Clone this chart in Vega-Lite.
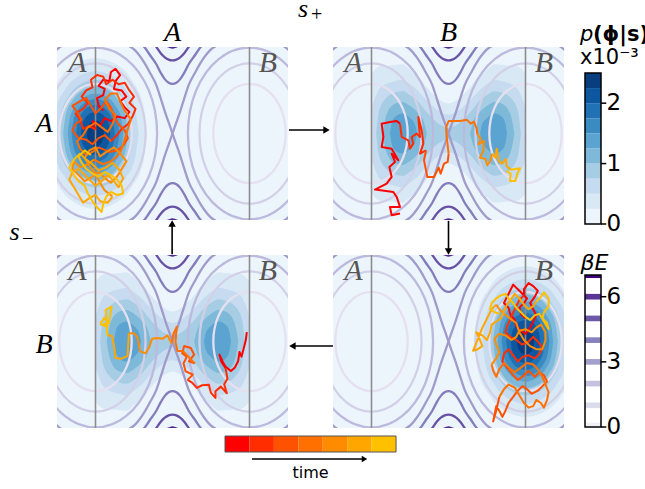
{
"$schema": "https://vega.github.io/schema/vega-lite/v6.json",
"background": "white",
"padding": {"left": 9, "top": -4, "right": 0, "bottom": 0},
"config": {"view": {"stroke": null}},
"datasets": {
"ell": [
{"id":"1L","lev":1,"x":-0.53,"y":0},{"id":"1L","lev":1,"x":-0.593,"y":0.323},{"id":"1L","lev":1,"x":-0.765,"y":0.559},{"id":"1L","lev":1,"x":-1,"y":0.645},{"id":"1L","lev":1,"x":-1.235,"y":0.559},{"id":"1L","lev":1,"x":-1.407,"y":0.323},{"id":"1L","lev":1,"x":-1.47,"y":0},{"id":"1L","lev":1,"x":-1.407,"y":-0.323},{"id":"1L","lev":1,"x":-1.235,"y":-0.559},{"id":"1L","lev":1,"x":-1,"y":-0.645},{"id":"1L","lev":1,"x":-0.765,"y":-0.559},{"id":"1L","lev":1,"x":-0.593,"y":-0.323},
{"id":"1R","lev":1,"x":0.53,"y":0},{"id":"1R","lev":1,"x":0.593,"y":0.323},{"id":"1R","lev":1,"x":0.765,"y":0.559},{"id":"1R","lev":1,"x":1,"y":0.645},{"id":"1R","lev":1,"x":1.235,"y":0.559},{"id":"1R","lev":1,"x":1.407,"y":0.323},{"id":"1R","lev":1,"x":1.47,"y":0},{"id":"1R","lev":1,"x":1.407,"y":-0.323},{"id":"1R","lev":1,"x":1.235,"y":-0.559},{"id":"1R","lev":1,"x":1,"y":-0.645},{"id":"1R","lev":1,"x":0.765,"y":-0.559},{"id":"1R","lev":1,"x":0.593,"y":-0.323},
{"id":"2L","lev":2,"x":-0.35,"y":0},{"id":"2L","lev":2,"x":-0.437,"y":0.457},{"id":"2L","lev":2,"x":-0.675,"y":0.791},{"id":"2L","lev":2,"x":-1,"y":0.913},{"id":"2L","lev":2,"x":-1.325,"y":0.791},{"id":"2L","lev":2,"x":-1.563,"y":0.457},{"id":"2L","lev":2,"x":-1.65,"y":0},{"id":"2L","lev":2,"x":-1.563,"y":-0.457},{"id":"2L","lev":2,"x":-1.325,"y":-0.791},{"id":"2L","lev":2,"x":-1,"y":-0.913},{"id":"2L","lev":2,"x":-0.675,"y":-0.791},{"id":"2L","lev":2,"x":-0.437,"y":-0.457},
{"id":"2R","lev":2,"x":0.35,"y":0},{"id":"2R","lev":2,"x":0.437,"y":0.457},{"id":"2R","lev":2,"x":0.675,"y":0.791},{"id":"2R","lev":2,"x":1,"y":0.913},{"id":"2R","lev":2,"x":1.325,"y":0.791},{"id":"2R","lev":2,"x":1.563,"y":0.457},{"id":"2R","lev":2,"x":1.65,"y":0},{"id":"2R","lev":2,"x":1.563,"y":-0.457},{"id":"2R","lev":2,"x":1.325,"y":-0.791},{"id":"2R","lev":2,"x":1,"y":-0.913},{"id":"2R","lev":2,"x":0.675,"y":-0.791},{"id":"2R","lev":2,"x":0.437,"y":-0.457},
{"id":"3L","lev":3,"x":-0.2,"y":0},{"id":"3L","lev":3,"x":-0.307,"y":0.559},{"id":"3L","lev":3,"x":-0.6,"y":0.968},{"id":"3L","lev":3,"x":-1,"y":1.118},{"id":"3L","lev":3,"x":-1.4,"y":0.968},{"id":"3L","lev":3,"x":-1.693,"y":0.559},{"id":"3L","lev":3,"x":-1.8,"y":0},{"id":"3L","lev":3,"x":-1.693,"y":-0.559},{"id":"3L","lev":3,"x":-1.4,"y":-0.968},{"id":"3L","lev":3,"x":-1,"y":-1.118},{"id":"3L","lev":3,"x":-0.6,"y":-0.968},{"id":"3L","lev":3,"x":-0.307,"y":-0.559},
{"id":"3R","lev":3,"x":0.2,"y":0},{"id":"3R","lev":3,"x":0.307,"y":0.559},{"id":"3R","lev":3,"x":0.6,"y":0.968},{"id":"3R","lev":3,"x":1,"y":1.118},{"id":"3R","lev":3,"x":1.4,"y":0.968},{"id":"3R","lev":3,"x":1.693,"y":0.559},{"id":"3R","lev":3,"x":1.8,"y":0},{"id":"3R","lev":3,"x":1.693,"y":-0.559},{"id":"3R","lev":3,"x":1.4,"y":-0.968},{"id":"3R","lev":3,"x":1,"y":-1.118},{"id":"3R","lev":3,"x":0.6,"y":-0.968},{"id":"3R","lev":3,"x":0.307,"y":-0.559}
],
"arms": [
{"id":"4a","lev":4,"x":-0.56,"y":1.134},{"id":"4a","lev":4,"x":-0.5,"y":1.094},{"id":"4a","lev":4,"x":-0.45,"y":1.041},{"id":"4a","lev":4,"x":-0.36,"y":0.913},{"id":"4a","lev":4,"x":-0.3,"y":0.804},{"id":"4a","lev":4,"x":-0.21,"y":0.629},{"id":"4a","lev":4,"x":-0.15,"y":0.447},{"id":"4a","lev":4,"x":-0.1,"y":0.289},{"id":"4a","lev":4,"x":-0.05,"y":0.144},{"id":"4a","lev":4,"x":0,"y":0},{"id":"4a","lev":4,"x":0.05,"y":-0.144},{"id":"4a","lev":4,"x":0.1,"y":-0.289},{"id":"4a","lev":4,"x":0.15,"y":-0.447},{"id":"4a","lev":4,"x":0.21,"y":-0.629},{"id":"4a","lev":4,"x":0.3,"y":-0.804},{"id":"4a","lev":4,"x":0.36,"y":-0.913},{"id":"4a","lev":4,"x":0.45,"y":-1.041},{"id":"4a","lev":4,"x":0.5,"y":-1.094},{"id":"4a","lev":4,"x":0.56,"y":-1.134},
{"id":"4b","lev":4,"x":-0.56,"y":-1.134},{"id":"4b","lev":4,"x":-0.5,"y":-1.094},{"id":"4b","lev":4,"x":-0.45,"y":-1.041},{"id":"4b","lev":4,"x":-0.36,"y":-0.913},{"id":"4b","lev":4,"x":-0.3,"y":-0.804},{"id":"4b","lev":4,"x":-0.21,"y":-0.629},{"id":"4b","lev":4,"x":-0.15,"y":-0.447},{"id":"4b","lev":4,"x":-0.1,"y":-0.289},{"id":"4b","lev":4,"x":-0.05,"y":-0.144},{"id":"4b","lev":4,"x":0,"y":0},{"id":"4b","lev":4,"x":0.05,"y":0.144},{"id":"4b","lev":4,"x":0.1,"y":0.289},{"id":"4b","lev":4,"x":0.15,"y":0.447},{"id":"4b","lev":4,"x":0.21,"y":0.629},{"id":"4b","lev":4,"x":0.3,"y":0.804},{"id":"4b","lev":4,"x":0.36,"y":0.913},{"id":"4b","lev":4,"x":0.45,"y":1.041},{"id":"4b","lev":4,"x":0.5,"y":1.094},{"id":"4b","lev":4,"x":0.56,"y":1.134},
{"id":"4c1","lev":4,"x":1.44,"y":1.14},{"id":"4c1","lev":4,"x":1.5,"y":1.094},{"id":"4c1","lev":4,"x":1.56,"y":1.04},
{"id":"4c2","lev":4,"x":1.44,"y":-1.14},{"id":"4c2","lev":4,"x":1.5,"y":-1.094},{"id":"4c2","lev":4,"x":1.56,"y":-1.04},
{"id":"4c3","lev":4,"x":-1.56,"y":1.04},{"id":"4c3","lev":4,"x":-1.5,"y":1.094},{"id":"4c3","lev":4,"x":-1.44,"y":1.14},
{"id":"4c4","lev":4,"x":-1.56,"y":-1.04},{"id":"4c4","lev":4,"x":-1.5,"y":-1.094},{"id":"4c4","lev":4,"x":-1.44,"y":-1.14},
{"id":"5T","lev":5,"x":-0.38,"y":1.14},{"id":"5T","lev":5,"x":-0.36,"y":1.118},{"id":"5T","lev":5,"x":-0.3,"y":1.031},{"id":"5T","lev":5,"x":-0.21,"y":0.901},{"id":"5T","lev":5,"x":-0.15,"y":0.785},{"id":"5T","lev":5,"x":-0.1,"y":0.707},{"id":"5T","lev":5,"x":-0.05,"y":0.661},{"id":"5T","lev":5,"x":0,"y":0.645},{"id":"5T","lev":5,"x":0.05,"y":0.661},{"id":"5T","lev":5,"x":0.1,"y":0.707},{"id":"5T","lev":5,"x":0.15,"y":0.785},{"id":"5T","lev":5,"x":0.21,"y":0.901},{"id":"5T","lev":5,"x":0.3,"y":1.031},{"id":"5T","lev":5,"x":0.36,"y":1.118},{"id":"5T","lev":5,"x":0.38,"y":1.14},
{"id":"5B","lev":5,"x":-0.38,"y":-1.14},{"id":"5B","lev":5,"x":-0.36,"y":-1.118},{"id":"5B","lev":5,"x":-0.3,"y":-1.031},{"id":"5B","lev":5,"x":-0.21,"y":-0.901},{"id":"5B","lev":5,"x":-0.15,"y":-0.785},{"id":"5B","lev":5,"x":-0.1,"y":-0.707},{"id":"5B","lev":5,"x":-0.05,"y":-0.661},{"id":"5B","lev":5,"x":0,"y":-0.645},{"id":"5B","lev":5,"x":0.05,"y":-0.661},{"id":"5B","lev":5,"x":0.1,"y":-0.707},{"id":"5B","lev":5,"x":0.15,"y":-0.785},{"id":"5B","lev":5,"x":0.21,"y":-0.901},{"id":"5B","lev":5,"x":0.3,"y":-1.031},{"id":"5B","lev":5,"x":0.36,"y":-1.118},{"id":"5B","lev":5,"x":0.38,"y":-1.14},
{"id":"6T","lev":6,"x":-0.22,"y":1.14},{"id":"6T","lev":6,"x":-0.2,"y":1.11},{"id":"6T","lev":6,"x":-0.15,"y":1.04},{"id":"6T","lev":6,"x":-0.1,"y":0.99},{"id":"6T","lev":6,"x":-0.05,"y":0.96},{"id":"6T","lev":6,"x":0,"y":0.95},{"id":"6T","lev":6,"x":0.05,"y":0.96},{"id":"6T","lev":6,"x":0.1,"y":0.99},{"id":"6T","lev":6,"x":0.15,"y":1.04},{"id":"6T","lev":6,"x":0.2,"y":1.11},{"id":"6T","lev":6,"x":0.22,"y":1.14},
{"id":"6B","lev":6,"x":-0.22,"y":-1.14},{"id":"6B","lev":6,"x":-0.2,"y":-1.11},{"id":"6B","lev":6,"x":-0.15,"y":-1.04},{"id":"6B","lev":6,"x":-0.1,"y":-0.99},{"id":"6B","lev":6,"x":-0.05,"y":-0.96},{"id":"6B","lev":6,"x":0,"y":-0.95},{"id":"6B","lev":6,"x":0.05,"y":-0.96},{"id":"6B","lev":6,"x":0.1,"y":-0.99},{"id":"6B","lev":6,"x":0.15,"y":-1.04},{"id":"6B","lev":6,"x":0.2,"y":-1.11},{"id":"6B","lev":6,"x":0.22,"y":-1.14},
{"id":"7T","lev":7,"x":-0.07,"y":1.14},{"id":"7T","lev":7,"x":-0.04,"y":1.128},{"id":"7T","lev":7,"x":0,"y":1.118},{"id":"7T","lev":7,"x":0.04,"y":1.128},{"id":"7T","lev":7,"x":0.07,"y":1.14},
{"id":"7B","lev":7,"x":-0.07,"y":-1.14},{"id":"7B","lev":7,"x":-0.04,"y":-1.128},{"id":"7B","lev":7,"x":0,"y":-1.118},{"id":"7B","lev":7,"x":0.04,"y":-1.128},{"id":"7B","lev":7,"x":0.07,"y":-1.14}
],
"wellDens": [
{"k":1,"x":-1.67,"xb":1.67,"h":0,"l":0},{"k":1,"x":-1.619,"xb":1.619,"h":0.375,"l":-0.375},{"k":1,"x":-1.474,"xb":1.474,"h":0.693,"l":-0.693},{"k":1,"x":-1.257,"xb":1.257,"h":0.906,"l":-0.906},{"k":1,"x":-1,"xb":1,"h":0.98,"l":-0.98},{"k":1,"x":-0.743,"xb":0.743,"h":0.906,"l":-0.906},{"k":1,"x":-0.526,"xb":0.526,"h":0.693,"l":-0.693},{"k":1,"x":-0.381,"xb":0.381,"h":0.375,"l":-0.375},{"k":1,"x":-0.33,"xb":0.33,"h":0,"l":0},
{"k":2,"x":-1.56,"xb":1.56,"h":0,"l":0},{"k":2,"x":-1.517,"xb":1.517,"h":0.31,"l":-0.31},{"k":2,"x":-1.396,"xb":1.396,"h":0.573,"l":-0.573},{"k":2,"x":-1.214,"xb":1.214,"h":0.748,"l":-0.748},{"k":2,"x":-1,"xb":1,"h":0.81,"l":-0.81},{"k":2,"x":-0.786,"xb":0.786,"h":0.748,"l":-0.748},{"k":2,"x":-0.604,"xb":0.604,"h":0.573,"l":-0.573},{"k":2,"x":-0.483,"xb":0.483,"h":0.31,"l":-0.31},{"k":2,"x":-0.44,"xb":0.44,"h":0,"l":0},
{"k":3,"x":-1.48,"xb":1.48,"h":0,"l":0},{"k":3,"x":-1.444,"xb":1.444,"h":0.268,"l":-0.268},{"k":3,"x":-1.339,"xb":1.339,"h":0.495,"l":-0.495},{"k":3,"x":-1.184,"xb":1.184,"h":0.647,"l":-0.647},{"k":3,"x":-1,"xb":1,"h":0.7,"l":-0.7},{"k":3,"x":-0.816,"xb":0.816,"h":0.647,"l":-0.647},{"k":3,"x":-0.661,"xb":0.661,"h":0.495,"l":-0.495},{"k":3,"x":-0.556,"xb":0.556,"h":0.268,"l":-0.268},{"k":3,"x":-0.52,"xb":0.52,"h":0,"l":0},
{"k":4,"x":-1.42,"xb":1.42,"h":0,"l":0},{"k":4,"x":-1.388,"xb":1.388,"h":0.234,"l":-0.234},{"k":4,"x":-1.297,"xb":1.297,"h":0.431,"l":-0.431},{"k":4,"x":-1.161,"xb":1.161,"h":0.564,"l":-0.564},{"k":4,"x":-1,"xb":1,"h":0.61,"l":-0.61},{"k":4,"x":-0.839,"xb":0.839,"h":0.564,"l":-0.564},{"k":4,"x":-0.703,"xb":0.703,"h":0.431,"l":-0.431},{"k":4,"x":-0.612,"xb":0.612,"h":0.234,"l":-0.234},{"k":4,"x":-0.58,"xb":0.58,"h":0,"l":0},
{"k":5,"x":-1.36,"xb":1.36,"h":0,"l":0},{"k":5,"x":-1.333,"xb":1.333,"h":0.199,"l":-0.199},{"k":5,"x":-1.255,"xb":1.255,"h":0.368,"l":-0.368},{"k":5,"x":-1.138,"xb":1.138,"h":0.48,"l":-0.48},{"k":5,"x":-1,"xb":1,"h":0.52,"l":-0.52},{"k":5,"x":-0.862,"xb":0.862,"h":0.48,"l":-0.48},{"k":5,"x":-0.745,"xb":0.745,"h":0.368,"l":-0.368},{"k":5,"x":-0.667,"xb":0.667,"h":0.199,"l":-0.199},{"k":5,"x":-0.64,"xb":0.64,"h":0,"l":0},
{"k":6,"x":-1.31,"xb":1.31,"h":0,"l":0},{"k":6,"x":-1.286,"xb":1.286,"h":0.172,"l":-0.172},{"k":6,"x":-1.219,"xb":1.219,"h":0.318,"l":-0.318},{"k":6,"x":-1.119,"xb":1.119,"h":0.416,"l":-0.416},{"k":6,"x":-1,"xb":1,"h":0.45,"l":-0.45},{"k":6,"x":-0.881,"xb":0.881,"h":0.416,"l":-0.416},{"k":6,"x":-0.781,"xb":0.781,"h":0.318,"l":-0.318},{"k":6,"x":-0.714,"xb":0.714,"h":0.172,"l":-0.172},{"k":6,"x":-0.69,"xb":0.69,"h":0,"l":0},
{"k":7,"x":-1.25,"xb":1.25,"h":0,"l":0},{"k":7,"x":-1.231,"xb":1.231,"h":0.142,"l":-0.142},{"k":7,"x":-1.177,"xb":1.177,"h":0.262,"l":-0.262},{"k":7,"x":-1.096,"xb":1.096,"h":0.342,"l":-0.342},{"k":7,"x":-1,"xb":1,"h":0.37,"l":-0.37},{"k":7,"x":-0.904,"xb":0.904,"h":0.342,"l":-0.342},{"k":7,"x":-0.823,"xb":0.823,"h":0.262,"l":-0.262},{"k":7,"x":-0.769,"xb":0.769,"h":0.142,"l":-0.142},{"k":7,"x":-0.75,"xb":0.75,"h":0,"l":0},
{"k":8,"x":-1.19,"xb":1.19,"h":0,"l":0},{"k":8,"x":-1.176,"xb":1.176,"h":0.107,"l":-0.107},{"k":8,"x":-1.134,"xb":1.134,"h":0.198,"l":-0.198},{"k":8,"x":-1.073,"xb":1.073,"h":0.259,"l":-0.259},{"k":8,"x":-1,"xb":1,"h":0.28,"l":-0.28},{"k":8,"x":-0.927,"xb":0.927,"h":0.259,"l":-0.259},{"k":8,"x":-0.866,"xb":0.866,"h":0.198,"l":-0.198},{"k":8,"x":-0.824,"xb":0.824,"h":0.107,"l":-0.107},{"k":8,"x":-0.81,"xb":0.81,"h":0,"l":0},
{"k":9,"x":-1.11,"xb":1.11,"h":0,"l":0},{"k":9,"x":-1.102,"xb":1.102,"h":0.065,"l":-0.065},{"k":9,"x":-1.078,"xb":1.078,"h":0.12,"l":-0.12},{"k":9,"x":-1.042,"xb":1.042,"h":0.157,"l":-0.157},{"k":9,"x":-1,"xb":1,"h":0.17,"l":-0.17},{"k":9,"x":-0.958,"xb":0.958,"h":0.157,"l":-0.157},{"k":9,"x":-0.922,"xb":0.922,"h":0.12,"l":-0.12},{"k":9,"x":-0.898,"xb":0.898,"h":0.065,"l":-0.065},{"k":9,"x":-0.89,"xb":0.89,"h":0,"l":0}
],
"transDens": [
{"id":"t1","k":1,"x":-1,"h":0.78,"l":-0.78},{"id":"t1","k":1,"x":-0.9,"h":0.87,"l":-0.87},{"id":"t1","k":1,"x":-0.8,"h":0.88,"l":-0.88},{"id":"t1","k":1,"x":-0.7,"h":0.89,"l":-0.89},{"id":"t1","k":1,"x":-0.6,"h":0.9,"l":-0.9},{"id":"t1","k":1,"x":-0.5,"h":0.83,"l":-0.83},{"id":"t1","k":1,"x":-0.4,"h":0.75,"l":-0.75},{"id":"t1","k":1,"x":-0.3,"h":0.62,"l":-0.62},{"id":"t1","k":1,"x":-0.2,"h":0.51,"l":-0.51},{"id":"t1","k":1,"x":-0.1,"h":0.43,"l":-0.43},{"id":"t1","k":1,"x":0,"h":0.39,"l":-0.39},{"id":"t1","k":1,"x":0.1,"h":0.43,"l":-0.43},{"id":"t1","k":1,"x":0.2,"h":0.51,"l":-0.51},{"id":"t1","k":1,"x":0.3,"h":0.62,"l":-0.62},{"id":"t1","k":1,"x":0.4,"h":0.75,"l":-0.75},{"id":"t1","k":1,"x":0.5,"h":0.83,"l":-0.83},{"id":"t1","k":1,"x":0.6,"h":0.9,"l":-0.9},{"id":"t1","k":1,"x":0.7,"h":0.89,"l":-0.89},{"id":"t1","k":1,"x":0.8,"h":0.88,"l":-0.88},{"id":"t1","k":1,"x":0.9,"h":0.87,"l":-0.87},{"id":"t1","k":1,"x":1,"h":0.78,"l":-0.78},
{"id":"t2","k":2,"x":-1,"h":0.33,"l":-0.33},{"id":"t2","k":2,"x":-0.9,"h":0.58,"l":-0.58},{"id":"t2","k":2,"x":-0.8,"h":0.65,"l":-0.65},{"id":"t2","k":2,"x":-0.7,"h":0.68,"l":-0.68},{"id":"t2","k":2,"x":-0.6,"h":0.7,"l":-0.7},{"id":"t2","k":2,"x":-0.5,"h":0.64,"l":-0.64},{"id":"t2","k":2,"x":-0.4,"h":0.56,"l":-0.56},{"id":"t2","k":2,"x":-0.3,"h":0.45,"l":-0.45},{"id":"t2","k":2,"x":-0.2,"h":0.35,"l":-0.35},{"id":"t2","k":2,"x":-0.1,"h":0.275,"l":-0.275},{"id":"t2","k":2,"x":0,"h":0.245,"l":-0.245},{"id":"t2","k":2,"x":0.1,"h":0.275,"l":-0.275},{"id":"t2","k":2,"x":0.2,"h":0.35,"l":-0.35},{"id":"t2","k":2,"x":0.3,"h":0.45,"l":-0.45},{"id":"t2","k":2,"x":0.4,"h":0.56,"l":-0.56},{"id":"t2","k":2,"x":0.5,"h":0.64,"l":-0.64},{"id":"t2","k":2,"x":0.6,"h":0.7,"l":-0.7},{"id":"t2","k":2,"x":0.7,"h":0.68,"l":-0.68},{"id":"t2","k":2,"x":0.8,"h":0.65,"l":-0.65},{"id":"t2","k":2,"x":0.9,"h":0.58,"l":-0.58},{"id":"t2","k":2,"x":1,"h":0.33,"l":-0.33},
{"id":"t3","k":3,"x":-0.94,"h":0,"l":0},{"id":"t3","k":3,"x":-0.9,"h":0.3,"l":-0.3},{"id":"t3","k":3,"x":-0.8,"h":0.47,"l":-0.47},{"id":"t3","k":3,"x":-0.7,"h":0.53,"l":-0.53},{"id":"t3","k":3,"x":-0.6,"h":0.55,"l":-0.55},{"id":"t3","k":3,"x":-0.5,"h":0.5,"l":-0.5},{"id":"t3","k":3,"x":-0.4,"h":0.42,"l":-0.42},{"id":"t3","k":3,"x":-0.3,"h":0.3,"l":-0.3},{"id":"t3","k":3,"x":-0.2,"h":0.19,"l":-0.19},{"id":"t3","k":3,"x":-0.1,"h":0.11,"l":-0.11},{"id":"t3","k":3,"x":0,"h":0.07,"l":-0.07},{"id":"t3","k":3,"x":0.1,"h":0.11,"l":-0.11},{"id":"t3","k":3,"x":0.2,"h":0.19,"l":-0.19},{"id":"t3","k":3,"x":0.3,"h":0.3,"l":-0.3},{"id":"t3","k":3,"x":0.4,"h":0.42,"l":-0.42},{"id":"t3","k":3,"x":0.5,"h":0.5,"l":-0.5},{"id":"t3","k":3,"x":0.6,"h":0.55,"l":-0.55},{"id":"t3","k":3,"x":0.7,"h":0.53,"l":-0.53},{"id":"t3","k":3,"x":0.8,"h":0.47,"l":-0.47},{"id":"t3","k":3,"x":0.9,"h":0.3,"l":-0.3},{"id":"t3","k":3,"x":0.94,"h":0,"l":0},
{"id":"t4L","k":4,"x":-0.855,"h":0,"l":0},{"id":"t4L","k":4,"x":-0.83,"h":0.15,"l":-0.15},{"id":"t4L","k":4,"x":-0.8,"h":0.26,"l":-0.26},{"id":"t4L","k":4,"x":-0.7,"h":0.385,"l":-0.385},{"id":"t4L","k":4,"x":-0.6,"h":0.41,"l":-0.41},{"id":"t4L","k":4,"x":-0.5,"h":0.36,"l":-0.36},{"id":"t4L","k":4,"x":-0.4,"h":0.27,"l":-0.27},{"id":"t4L","k":4,"x":-0.32,"h":0.15,"l":-0.15},{"id":"t4L","k":4,"x":-0.28,"h":0,"l":0},
{"id":"t4R","k":4,"x":0.28,"h":0,"l":0},{"id":"t4R","k":4,"x":0.32,"h":0.15,"l":-0.15},{"id":"t4R","k":4,"x":0.4,"h":0.27,"l":-0.27},{"id":"t4R","k":4,"x":0.5,"h":0.36,"l":-0.36},{"id":"t4R","k":4,"x":0.6,"h":0.41,"l":-0.41},{"id":"t4R","k":4,"x":0.7,"h":0.385,"l":-0.385},{"id":"t4R","k":4,"x":0.8,"h":0.26,"l":-0.26},{"id":"t4R","k":4,"x":0.83,"h":0.15,"l":-0.15},{"id":"t4R","k":4,"x":0.855,"h":0,"l":0},
{"id":"t5L","k":5,"x":-0.76,"h":0,"l":0},{"id":"t5L","k":5,"x":-0.74,"h":0.12,"l":-0.12},{"id":"t5L","k":5,"x":-0.7,"h":0.21,"l":-0.21},{"id":"t5L","k":5,"x":-0.6,"h":0.26,"l":-0.26},{"id":"t5L","k":5,"x":-0.5,"h":0.2,"l":-0.2},{"id":"t5L","k":5,"x":-0.43,"h":0.1,"l":-0.1},{"id":"t5L","k":5,"x":-0.41,"h":0,"l":0},
{"id":"t5R","k":5,"x":0.41,"h":0,"l":0},{"id":"t5R","k":5,"x":0.43,"h":0.1,"l":-0.1},{"id":"t5R","k":5,"x":0.5,"h":0.2,"l":-0.2},{"id":"t5R","k":5,"x":0.6,"h":0.26,"l":-0.26},{"id":"t5R","k":5,"x":0.7,"h":0.21,"l":-0.21},{"id":"t5R","k":5,"x":0.74,"h":0.12,"l":-0.12},{"id":"t5R","k":5,"x":0.76,"h":0,"l":0}
],
"traj": [
{"p":1,"s":0,"x":-0.9,"y":0.3},{"p":1,"s":0,"x":-0.96,"y":0.36},{"p":1,"s":0,"x":-0.98,"y":0.46},{"p":1,"s":0,"x":-0.9,"y":0.5},{"p":1,"s":0,"x":-0.88,"y":0.58},{"p":1,"s":0,"x":-0.96,"y":0.62},{"p":1,"s":0,"x":-0.9,"y":0.7},{"p":1,"s":0,"x":-0.82,"y":0.68},{"p":1,"s":0,"x":-0.8,"y":0.8},{"p":1,"s":0,"x":-0.74,"y":0.84},{"p":1,"s":0,"x":-0.68,"y":0.76},{"p":1,"s":0,"x":-0.74,"y":0.68},{"p":1,"s":0,"x":-0.76,"y":0.58},{"p":1,"s":0,"x":-0.66,"y":0.56},{"p":1,"s":0,"x":-0.6,"y":0.48},{"p":1,"s":0,"x":-0.68,"y":0.42},{"p":1,"s":0,"x":-0.62,"y":0.34},{"p":1,"s":0,"x":-0.56,"y":0.28},{"p":1,"s":0,"x":-0.62,"y":0.2},{"p":1,"s":0,"x":-0.72,"y":0.22},{"p":1,"s":0,"x":-0.8,"y":0.16},{"p":1,"s":0,"x":-0.88,"y":0.2},{"p":1,"s":0,"x":-0.94,"y":0.1},{"p":1,"s":0,"x":-1.04,"y":0.16},{"p":1,"s":0,"x":-1,"y":0.05},
{"p":1,"s":1,"x":-1,"y":0.05},{"p":1,"s":1,"x":-1.08,"y":0.1},{"p":1,"s":1,"x":-1.16,"y":0.06},{"p":1,"s":1,"x":-1.2,"y":0.18},{"p":1,"s":1,"x":-1.26,"y":0.26},{"p":1,"s":1,"x":-1.16,"y":0.32},{"p":1,"s":1,"x":-1.1,"y":0.4},{"p":1,"s":1,"x":-1.18,"y":0.48},{"p":1,"s":1,"x":-1.12,"y":0.56},{"p":1,"s":1,"x":-1.04,"y":0.6},{"p":1,"s":1,"x":-1.06,"y":0.7},{"p":1,"s":1,"x":-0.98,"y":0.76},{"p":1,"s":1,"x":-0.9,"y":0.74},{"p":1,"s":1,"x":-0.86,"y":0.64},{"p":1,"s":1,"x":-0.78,"y":0.7},{"p":1,"s":1,"x":-0.7,"y":0.64},{"p":1,"s":1,"x":-0.62,"y":0.66},{"p":1,"s":1,"x":-0.56,"y":0.56},{"p":1,"s":1,"x":-0.5,"y":0.48},{"p":1,"s":1,"x":-0.56,"y":0.4},{"p":1,"s":1,"x":-0.48,"y":0.32},{"p":1,"s":1,"x":-0.52,"y":0.22},{"p":1,"s":1,"x":-0.58,"y":0.12},{"p":1,"s":1,"x":-0.66,"y":0.06},{"p":1,"s":1,"x":-0.72,"y":-0.02},{"p":1,"s":1,"x":-0.8,"y":-0.1},
{"p":1,"s":2,"x":-0.8,"y":-0.1},{"p":1,"s":2,"x":-0.88,"y":-0.02},{"p":1,"s":2,"x":-0.96,"y":-0.06},{"p":1,"s":2,"x":-1.04,"y":-0.14},{"p":1,"s":2,"x":-1.12,"y":-0.08},{"p":1,"s":2,"x":-1.22,"y":-0.06},{"p":1,"s":2,"x":-1.3,"y":0.04},{"p":1,"s":2,"x":-1.26,"y":0.12},{"p":1,"s":2,"x":-1.18,"y":0.18},{"p":1,"s":2,"x":-1.24,"y":0.28},{"p":1,"s":2,"x":-1.3,"y":0.36},{"p":1,"s":2,"x":-1.2,"y":0.42},{"p":1,"s":2,"x":-1.12,"y":0.46},{"p":1,"s":2,"x":-1.06,"y":0.36},{"p":1,"s":2,"x":-1,"y":0.26},{"p":1,"s":2,"x":-0.92,"y":0.34},{"p":1,"s":2,"x":-0.86,"y":0.42},{"p":1,"s":2,"x":-0.8,"y":0.34},{"p":1,"s":2,"x":-0.76,"y":0.22},{"p":1,"s":2,"x":-0.7,"y":0.12},{"p":1,"s":2,"x":-0.62,"y":0.04},{"p":1,"s":2,"x":-0.58,"y":-0.06},{"p":1,"s":2,"x":-0.64,"y":-0.16},{"p":1,"s":2,"x":-0.72,"y":-0.22},{"p":1,"s":2,"x":-0.82,"y":-0.24},{"p":1,"s":2,"x":-0.96,"y":-0.18},
{"p":1,"s":3,"x":-0.96,"y":-0.18},{"p":1,"s":3,"x":-1.04,"y":-0.24},{"p":1,"s":3,"x":-1.12,"y":-0.28},{"p":1,"s":3,"x":-1.2,"y":-0.2},{"p":1,"s":3,"x":-1.24,"y":-0.1},{"p":1,"s":3,"x":-1.16,"y":-0.02},{"p":1,"s":3,"x":-1.1,"y":0.08},{"p":1,"s":3,"x":-1,"y":0.14},{"p":1,"s":3,"x":-0.92,"y":0.08},{"p":1,"s":3,"x":-0.84,"y":0.02},{"p":1,"s":3,"x":-0.78,"y":0.12},{"p":1,"s":3,"x":-0.74,"y":0.24},{"p":1,"s":3,"x":-0.82,"y":0.32},{"p":1,"s":3,"x":-0.88,"y":0.44},{"p":1,"s":3,"x":-0.8,"y":0.52},{"p":1,"s":3,"x":-0.72,"y":0.52},{"p":1,"s":3,"x":-0.68,"y":0.42},{"p":1,"s":3,"x":-0.62,"y":0.3},{"p":1,"s":3,"x":-0.54,"y":0.18},{"p":1,"s":3,"x":-0.58,"y":0.06},{"p":1,"s":3,"x":-0.62,"y":-0.08},{"p":1,"s":3,"x":-0.66,"y":-0.2},{"p":1,"s":3,"x":-0.72,"y":-0.3},{"p":1,"s":3,"x":-0.8,"y":-0.36},{"p":1,"s":3,"x":-0.9,"y":-0.4},{"p":1,"s":3,"x":-1.02,"y":-0.34},
{"p":1,"s":4,"x":-1.02,"y":-0.34},{"p":1,"s":4,"x":-1.1,"y":-0.4},{"p":1,"s":4,"x":-1.2,"y":-0.44},{"p":1,"s":4,"x":-1.28,"y":-0.36},{"p":1,"s":4,"x":-1.3,"y":-0.46},{"p":1,"s":4,"x":-1.22,"y":-0.54},{"p":1,"s":4,"x":-1.14,"y":-0.62},{"p":1,"s":4,"x":-1.04,"y":-0.56},{"p":1,"s":4,"x":-0.96,"y":-0.5},{"p":1,"s":4,"x":-0.88,"y":-0.58},{"p":1,"s":4,"x":-0.8,"y":-0.64},{"p":1,"s":4,"x":-0.72,"y":-0.56},{"p":1,"s":4,"x":-0.66,"y":-0.46},{"p":1,"s":4,"x":-0.6,"y":-0.36},{"p":1,"s":4,"x":-0.68,"y":-0.26},{"p":1,"s":4,"x":-0.76,"y":-0.18},{"p":1,"s":4,"x":-0.86,"y":-0.24},{"p":1,"s":4,"x":-0.94,"y":-0.3},{"p":1,"s":4,"x":-1,"y":-0.18},{"p":1,"s":4,"x":-1.08,"y":-0.22},{"p":1,"s":4,"x":-1.14,"y":-0.32},{"p":1,"s":4,"x":-1.08,"y":-0.42},{"p":1,"s":4,"x":-1,"y":-0.52},{"p":1,"s":4,"x":-0.94,"y":-0.64},{"p":1,"s":4,"x":-0.88,"y":-0.74},{"p":1,"s":4,"x":-0.78,"y":-0.82},
{"p":1,"s":5,"x":-0.78,"y":-0.82},{"p":1,"s":5,"x":-0.84,"y":-0.9},{"p":1,"s":5,"x":-0.94,"y":-0.88},{"p":1,"s":5,"x":-1,"y":-0.8},{"p":1,"s":5,"x":-1.08,"y":-0.84},{"p":1,"s":5,"x":-1.16,"y":-0.9},{"p":1,"s":5,"x":-1.22,"y":-0.8},{"p":1,"s":5,"x":-1.28,"y":-0.7},{"p":1,"s":5,"x":-1.34,"y":-0.6},{"p":1,"s":5,"x":-1.3,"y":-0.5},{"p":1,"s":5,"x":-1.22,"y":-0.46},{"p":1,"s":5,"x":-1.16,"y":-0.52},{"p":1,"s":5,"x":-1.08,"y":-0.6},{"p":1,"s":5,"x":-1,"y":-0.68},{"p":1,"s":5,"x":-0.92,"y":-0.62},{"p":1,"s":5,"x":-0.84,"y":-0.54},{"p":1,"s":5,"x":-0.76,"y":-0.62},{"p":1,"s":5,"x":-0.7,"y":-0.7},{"p":1,"s":5,"x":-0.64,"y":-0.58},{"p":1,"s":5,"x":-0.7,"y":-0.46},{"p":1,"s":5,"x":-0.78,"y":-0.38},{"p":1,"s":5,"x":-0.86,"y":-0.44},{"p":1,"s":5,"x":-0.96,"y":-0.48},{"p":1,"s":5,"x":-1.04,"y":-0.4},{"p":1,"s":5,"x":-1.12,"y":-0.34},{"p":1,"s":5,"x":-1.2,"y":-0.26},
{"p":1,"s":6,"x":-1.2,"y":-0.26},{"p":1,"s":6,"x":-1.28,"y":-0.34},{"p":1,"s":6,"x":-1.34,"y":-0.44},{"p":1,"s":6,"x":-1.28,"y":-0.54},{"p":1,"s":6,"x":-1.22,"y":-0.62},{"p":1,"s":6,"x":-1.14,"y":-0.68},{"p":1,"s":6,"x":-1.1,"y":-0.78},{"p":1,"s":6,"x":-1.04,"y":-0.88},{"p":1,"s":6,"x":-0.98,"y":-0.96},{"p":1,"s":6,"x":-0.92,"y":-1.02},{"p":1,"s":6,"x":-0.9,"y":-0.92},{"p":1,"s":6,"x":-0.86,"y":-0.82},{"p":1,"s":6,"x":-0.8,"y":-0.76},{"p":1,"s":6,"x":-0.72,"y":-0.8},{"p":1,"s":6,"x":-0.64,"y":-0.78},{"p":1,"s":6,"x":-0.66,"y":-0.68},{"p":1,"s":6,"x":-0.72,"y":-0.6},{"p":1,"s":6,"x":-0.8,"y":-0.54},{"p":1,"s":6,"x":-0.88,"y":-0.5},{"p":1,"s":6,"x":-0.96,"y":-0.56},{"p":1,"s":6,"x":-1.04,"y":-0.52},{"p":1,"s":6,"x":-1.12,"y":-0.46},{"p":1,"s":6,"x":-1.18,"y":-0.38},{"p":1,"s":6,"x":-1.22,"y":-0.3},{"p":1,"s":6,"x":-1.14,"y":-0.22},{"p":1,"s":6,"x":-1.06,"y":-0.28},
{"p":2,"s":0,"x":-0.63,"y":-1.041},{"p":2,"s":0,"x":-0.738,"y":-1.063},{"p":2,"s":0,"x":-0.76,"y":-0.955},{"p":2,"s":0,"x":-0.63,"y":-0.955},{"p":2,"s":0,"x":-0.673,"y":-0.825},{"p":2,"s":0,"x":-0.716,"y":-0.76},{"p":2,"s":0,"x":-0.955,"y":-0.729},{"p":2,"s":0,"x":-0.803,"y":-0.652},{"p":2,"s":0,"x":-0.738,"y":-0.565},{"p":2,"s":0,"x":-0.768,"y":-0.435},{"p":2,"s":0,"x":-0.695,"y":-0.37},{"p":2,"s":0,"x":-0.738,"y":-0.262},{"p":2,"s":0,"x":-0.652,"y":-0.348},{"p":2,"s":0,"x":-0.738,"y":-0.197},{"p":2,"s":0,"x":-0.868,"y":-0.175},{"p":2,"s":0,"x":-0.846,"y":-0.045},{"p":2,"s":0,"x":-0.868,"y":0.128},{"p":2,"s":0,"x":-0.76,"y":0.149},{"p":2,"s":0,"x":-0.673,"y":0.162},{"p":2,"s":0,"x":-0.63,"y":0.128},
{"p":2,"s":1,"x":-0.63,"y":0.128},{"p":2,"s":1,"x":-0.608,"y":-0.045},{"p":2,"s":1,"x":-0.522,"y":-0.089},{"p":2,"s":1,"x":-0.5,"y":-0.197},{"p":2,"s":1,"x":-0.457,"y":-0.132},{"p":2,"s":1,"x":-0.478,"y":-0.045},{"p":2,"s":1,"x":-0.413,"y":-0.002},{"p":2,"s":1,"x":-0.37,"y":-0.045},{"p":2,"s":1,"x":-0.392,"y":0.214},{"p":2,"s":1,"x":-0.348,"y":0.041},{"p":2,"s":1,"x":-0.327,"y":-0.132},{"p":2,"s":1,"x":-0.37,"y":-0.262},{"p":2,"s":1,"x":-0.292,"y":-0.219},
{"p":2,"s":2,"x":-0.292,"y":-0.219},{"p":2,"s":2,"x":-0.318,"y":-0.348},{"p":2,"s":2,"x":-0.275,"y":-0.565},{"p":2,"s":2,"x":-0.188,"y":-0.565},{"p":2,"s":2,"x":-0.128,"y":-0.444},{"p":2,"s":2,"x":-0.102,"y":-0.522},{"p":2,"s":2,"x":-0.058,"y":-0.392},{"p":2,"s":2,"x":-0.011,"y":-0.37},{"p":2,"s":2,"x":0.002,"y":-0.262},
{"p":2,"s":3,"x":0.002,"y":-0.262},{"p":2,"s":3,"x":-0.024,"y":-0.045},{"p":2,"s":3,"x":-0.032,"y":0.084},{"p":2,"s":3,"x":0.002,"y":0.162},{"p":2,"s":3,"x":0.149,"y":0.162},{"p":2,"s":3,"x":0.236,"y":0.18},{"p":2,"s":3,"x":0.288,"y":0.128},{"p":2,"s":3,"x":0.331,"y":0.154},{"p":2,"s":3,"x":0.366,"y":0.063},{"p":2,"s":3,"x":0.375,"y":-0.011},
{"p":2,"s":4,"x":0.375,"y":-0.011},{"p":2,"s":4,"x":0.418,"y":-0.067},{"p":2,"s":4,"x":0.392,"y":-0.141},{"p":2,"s":4,"x":0.461,"y":-0.097},{"p":2,"s":4,"x":0.452,"y":-0.227},{"p":2,"s":4,"x":0.409,"y":-0.314},{"p":2,"s":4,"x":0.478,"y":-0.331},{"p":2,"s":4,"x":0.504,"y":-0.413},{"p":2,"s":4,"x":0.548,"y":-0.348},{"p":2,"s":4,"x":0.565,"y":-0.262},
{"p":2,"s":5,"x":0.565,"y":-0.262},{"p":2,"s":5,"x":0.608,"y":-0.314},{"p":2,"s":5,"x":0.626,"y":-0.197},{"p":2,"s":5,"x":0.652,"y":-0.357},{"p":2,"s":5,"x":0.695,"y":-0.392},{"p":2,"s":5,"x":0.747,"y":-0.331},{"p":2,"s":5,"x":0.755,"y":-0.426},{"p":2,"s":5,"x":0.807,"y":-0.47},
{"p":2,"s":6,"x":0.807,"y":-0.47},{"p":2,"s":6,"x":0.929,"y":-0.452},{"p":2,"s":6,"x":0.894,"y":-0.522},{"p":2,"s":6,"x":0.868,"y":-0.617},{"p":2,"s":6,"x":0.799,"y":-0.617},{"p":2,"s":6,"x":0.807,"y":-0.522},{"p":2,"s":6,"x":0.755,"y":-0.487},
{"p":3,"s":0,"x":0.965,"y":0.123},{"p":3,"s":0,"x":0.952,"y":0.019},{"p":3,"s":0,"x":0.922,"y":-0.102},{"p":3,"s":0,"x":0.896,"y":-0.197},{"p":3,"s":0,"x":0.87,"y":-0.136},{"p":3,"s":0,"x":0.853,"y":-0.253},{"p":3,"s":0,"x":0.81,"y":-0.34},{"p":3,"s":0,"x":0.758,"y":-0.383},{"p":3,"s":0,"x":0.688,"y":-0.327},{"p":3,"s":0,"x":0.654,"y":-0.266},{"p":3,"s":0,"x":0.61,"y":-0.171},{"p":3,"s":0,"x":0.636,"y":-0.266},{"p":3,"s":0,"x":0.688,"y":-0.344},
{"p":3,"s":1,"x":0.688,"y":-0.344},{"p":3,"s":1,"x":0.714,"y":-0.483},{"p":3,"s":1,"x":0.671,"y":-0.556},{"p":3,"s":1,"x":0.706,"y":-0.673},{"p":3,"s":1,"x":0.628,"y":-0.587},{"p":3,"s":1,"x":0.558,"y":-0.647},{"p":3,"s":1,"x":0.558,"y":-0.734},{"p":3,"s":1,"x":0.498,"y":-0.665},{"p":3,"s":1,"x":0.472,"y":-0.561},{"p":3,"s":1,"x":0.385,"y":-0.569},{"p":3,"s":1,"x":0.316,"y":-0.604},{"p":3,"s":1,"x":0.255,"y":-0.535},{"p":3,"s":1,"x":0.195,"y":-0.5},
{"p":3,"s":2,"x":0.195,"y":-0.5},{"p":3,"s":2,"x":0.264,"y":-0.431},{"p":3,"s":2,"x":0.169,"y":-0.387},{"p":3,"s":2,"x":0.143,"y":-0.284},{"p":3,"s":2,"x":0.186,"y":-0.197},{"p":3,"s":2,"x":0.126,"y":-0.154},{"p":3,"s":2,"x":0.152,"y":-0.058},{"p":3,"s":2,"x":0.238,"y":-0.084},{"p":3,"s":2,"x":0.281,"y":-0.171},{"p":3,"s":2,"x":0.212,"y":-0.258},{"p":3,"s":2,"x":0.29,"y":-0.284},
{"p":3,"s":3,"x":0.29,"y":-0.284},{"p":3,"s":3,"x":0.134,"y":-0.123},{"p":3,"s":3,"x":0.065,"y":-0.123},{"p":3,"s":3,"x":0.039,"y":-0.006},{"p":3,"s":3,"x":0.056,"y":0.193},{"p":3,"s":3,"x":0.013,"y":0.106},{"p":3,"s":3,"x":-0.013,"y":-0.024},
{"p":3,"s":4,"x":-0.013,"y":-0.024},{"p":3,"s":4,"x":-0.065,"y":0.08},{"p":3,"s":4,"x":-0.126,"y":0.037},{"p":3,"s":4,"x":-0.203,"y":0.045},{"p":3,"s":4,"x":-0.264,"y":0.037},{"p":3,"s":4,"x":-0.299,"y":-0.067},{"p":3,"s":4,"x":-0.351,"y":-0.154},{"p":3,"s":4,"x":-0.42,"y":-0.128},{"p":3,"s":4,"x":-0.455,"y":0.054},{"p":3,"s":4,"x":-0.498,"y":0.106},{"p":3,"s":4,"x":-0.567,"y":0.106},
{"p":3,"s":5,"x":-0.567,"y":0.106},{"p":3,"s":5,"x":-0.584,"y":-0.188},{"p":3,"s":5,"x":-0.662,"y":-0.223},{"p":3,"s":5,"x":-0.74,"y":-0.214},{"p":3,"s":5,"x":-0.758,"y":-0.067},{"p":3,"s":5,"x":-0.784,"y":0.071},{"p":3,"s":5,"x":-0.844,"y":0.08},
{"p":3,"s":6,"x":-0.844,"y":0.08},{"p":3,"s":6,"x":-0.861,"y":0.236},{"p":3,"s":6,"x":-0.931,"y":0.219},{"p":3,"s":6,"x":-0.844,"y":0.193},{"p":3,"s":6,"x":-0.87,"y":0.409},{"p":3,"s":6,"x":-0.792,"y":0.452},{"p":3,"s":6,"x":-0.827,"y":0.236},{"p":3,"s":6,"x":-0.887,"y":0.305},{"p":3,"s":6,"x":-0.939,"y":0.236},
{"p":4,"s":0,"x":1,"y":0.3},{"p":4,"s":0,"x":0.94,"y":0.36},{"p":4,"s":0,"x":0.92,"y":0.44},{"p":4,"s":0,"x":0.98,"y":0.5},{"p":4,"s":0,"x":1.02,"y":0.56},{"p":4,"s":0,"x":0.96,"y":0.62},{"p":4,"s":0,"x":0.9,"y":0.68},{"p":4,"s":0,"x":0.84,"y":0.74},{"p":4,"s":0,"x":0.8,"y":0.66},{"p":4,"s":0,"x":0.76,"y":0.58},{"p":4,"s":0,"x":0.72,"y":0.5},{"p":4,"s":0,"x":0.78,"y":0.44},{"p":4,"s":0,"x":0.8,"y":0.36},{"p":4,"s":0,"x":0.86,"y":0.28},{"p":4,"s":0,"x":0.88,"y":0.2},{"p":4,"s":0,"x":0.94,"y":0.14},{"p":4,"s":0,"x":1,"y":0.1},{"p":4,"s":0,"x":1.06,"y":0.18},{"p":4,"s":0,"x":1.1,"y":0.26},{"p":4,"s":0,"x":1.14,"y":0.34},{"p":4,"s":0,"x":1.1,"y":0.42},{"p":4,"s":0,"x":1.06,"y":0.5},{"p":4,"s":0,"x":1.12,"y":0.58},{"p":4,"s":0,"x":1.16,"y":0.66},{"p":4,"s":0,"x":1.1,"y":0.72},{"p":4,"s":0,"x":1.04,"y":0.76},{"p":4,"s":0,"x":0.98,"y":0.68},{"p":4,"s":0,"x":0.98,"y":0.6},
{"p":4,"s":1,"x":0.98,"y":0.6},{"p":4,"s":1,"x":0.92,"y":0.54},{"p":4,"s":1,"x":0.88,"y":0.46},{"p":4,"s":1,"x":0.84,"y":0.38},{"p":4,"s":1,"x":0.8,"y":0.28},{"p":4,"s":1,"x":0.76,"y":0.2},{"p":4,"s":1,"x":0.74,"y":0.12},{"p":4,"s":1,"x":0.8,"y":0.06},{"p":4,"s":1,"x":0.88,"y":0.02},{"p":4,"s":1,"x":0.96,"y":-0.04},{"p":4,"s":1,"x":1.04,"y":0},{"p":4,"s":1,"x":1.1,"y":0.06},{"p":4,"s":1,"x":1.16,"y":0},{"p":4,"s":1,"x":1.22,"y":-0.08},{"p":4,"s":1,"x":1.18,"y":-0.16},{"p":4,"s":1,"x":1.12,"y":-0.22},{"p":4,"s":1,"x":1.04,"y":-0.18},{"p":4,"s":1,"x":0.96,"y":-0.2},{"p":4,"s":1,"x":0.9,"y":-0.26},{"p":4,"s":1,"x":0.84,"y":-0.18},{"p":4,"s":1,"x":0.78,"y":-0.1},{"p":4,"s":1,"x":0.72,"y":-0.16},{"p":4,"s":1,"x":0.7,"y":-0.26},{"p":4,"s":1,"x":0.78,"y":-0.36},
{"p":4,"s":2,"x":0.78,"y":-0.36},{"p":4,"s":2,"x":0.84,"y":-0.44},{"p":4,"s":2,"x":0.9,"y":-0.5},{"p":4,"s":2,"x":0.98,"y":-0.44},{"p":4,"s":2,"x":1.04,"y":-0.38},{"p":4,"s":2,"x":1.12,"y":-0.46},{"p":4,"s":2,"x":1.18,"y":-0.4},{"p":4,"s":2,"x":1.24,"y":-0.44},{"p":4,"s":2,"x":1.28,"y":-0.52},{"p":4,"s":2,"x":1.22,"y":-0.58},{"p":4,"s":2,"x":1.16,"y":-0.64},{"p":4,"s":2,"x":1.08,"y":-0.68},{"p":4,"s":2,"x":1.02,"y":-0.62},{"p":4,"s":2,"x":0.96,"y":-0.58},{"p":4,"s":2,"x":0.9,"y":-0.64},{"p":4,"s":2,"x":0.84,"y":-0.72},{"p":4,"s":2,"x":0.78,"y":-0.8},{"p":4,"s":2,"x":0.74,"y":-0.9},{"p":4,"s":2,"x":0.7,"y":-0.98},{"p":4,"s":2,"x":0.66,"y":-0.9},{"p":4,"s":2,"x":0.62,"y":-0.84},{"p":4,"s":2,"x":0.6,"y":-0.94},{"p":4,"s":2,"x":0.58,"y":-1.04},{"p":4,"s":2,"x":0.62,"y":-0.9},{"p":4,"s":2,"x":0.66,"y":-0.72},
{"p":4,"s":3,"x":0.66,"y":-0.72},{"p":4,"s":3,"x":0.72,"y":-0.62},{"p":4,"s":3,"x":0.78,"y":-0.56},{"p":4,"s":3,"x":0.86,"y":-0.6},{"p":4,"s":3,"x":0.92,"y":-0.7},{"p":4,"s":3,"x":0.98,"y":-0.8},{"p":4,"s":3,"x":1.04,"y":-0.86},{"p":4,"s":3,"x":1.1,"y":-0.84},{"p":4,"s":3,"x":1.14,"y":-0.76},{"p":4,"s":3,"x":1.2,"y":-0.8},{"p":4,"s":3,"x":1.24,"y":-0.86},{"p":4,"s":3,"x":1.28,"y":-0.76},{"p":4,"s":3,"x":1.3,"y":-0.66},{"p":4,"s":3,"x":1.26,"y":-0.56},{"p":4,"s":3,"x":1.22,"y":-0.46},{"p":4,"s":3,"x":1.16,"y":-0.36},{"p":4,"s":3,"x":1.1,"y":-0.3},{"p":4,"s":3,"x":1.02,"y":-0.28},{"p":4,"s":3,"x":0.94,"y":-0.34},{"p":4,"s":3,"x":0.86,"y":-0.4},{"p":4,"s":3,"x":0.78,"y":-0.34},{"p":4,"s":3,"x":0.72,"y":-0.28},{"p":4,"s":3,"x":0.66,"y":-0.36},{"p":4,"s":3,"x":0.62,"y":-0.46},{"p":4,"s":3,"x":0.58,"y":-0.38},{"p":4,"s":3,"x":0.56,"y":-0.3},
{"p":4,"s":4,"x":0.56,"y":-0.3},{"p":4,"s":4,"x":0.62,"y":-0.22},{"p":4,"s":4,"x":0.66,"y":-0.14},{"p":4,"s":4,"x":0.62,"y":-0.04},{"p":4,"s":4,"x":0.6,"y":0.04},{"p":4,"s":4,"x":0.66,"y":0.1},{"p":4,"s":4,"x":0.74,"y":0.08},{"p":4,"s":4,"x":0.82,"y":0.02},{"p":4,"s":4,"x":0.88,"y":0.06},{"p":4,"s":4,"x":0.92,"y":0.14},{"p":4,"s":4,"x":1,"y":0.16},{"p":4,"s":4,"x":1.08,"y":0.12},{"p":4,"s":4,"x":1.14,"y":0.18},{"p":4,"s":4,"x":1.2,"y":0.22},{"p":4,"s":4,"x":1.26,"y":0.12},{"p":4,"s":4,"x":1.26,"y":0.02},{"p":4,"s":4,"x":1.22,"y":-0.1},{"p":4,"s":4,"x":1.14,"y":-0.1},{"p":4,"s":4,"x":1.06,"y":-0.06},{"p":4,"s":4,"x":0.98,"y":0.02},{"p":4,"s":4,"x":0.92,"y":0.12},{"p":4,"s":4,"x":0.88,"y":0.24},{"p":4,"s":4,"x":0.8,"y":0.3},{"p":4,"s":4,"x":0.72,"y":0.36},{"p":4,"s":4,"x":0.66,"y":0.42},{"p":4,"s":4,"x":0.62,"y":0.48},
{"p":4,"s":5,"x":0.62,"y":0.48},{"p":4,"s":5,"x":0.56,"y":0.42},{"p":4,"s":5,"x":0.52,"y":0.34},{"p":4,"s":5,"x":0.48,"y":0.26},{"p":4,"s":5,"x":0.44,"y":0.18},{"p":4,"s":5,"x":0.4,"y":0.08},{"p":4,"s":5,"x":0.36,"y":-0.02},{"p":4,"s":5,"x":0.32,"y":-0.12},{"p":4,"s":5,"x":0.38,"y":-0.1},{"p":4,"s":5,"x":0.44,"y":-0.06},{"p":4,"s":5,"x":0.4,"y":0.04},{"p":4,"s":5,"x":0.36,"y":0.12},{"p":4,"s":5,"x":0.44,"y":0.08},{"p":4,"s":5,"x":0.5,"y":0.02},{"p":4,"s":5,"x":0.54,"y":0.12},{"p":4,"s":5,"x":0.56,"y":0.22},{"p":4,"s":5,"x":0.62,"y":0.26},{"p":4,"s":5,"x":0.68,"y":0.3},{"p":4,"s":5,"x":0.72,"y":0.4},{"p":4,"s":5,"x":0.76,"y":0.48},{"p":4,"s":5,"x":0.82,"y":0.56},{"p":4,"s":5,"x":0.86,"y":0.62},{"p":4,"s":5,"x":0.92,"y":0.56},{"p":4,"s":5,"x":0.98,"y":0.48},{"p":4,"s":5,"x":1.04,"y":0.42},{"p":4,"s":5,"x":1.1,"y":0.46},{"p":4,"s":5,"x":1.14,"y":0.52},
{"p":4,"s":6,"x":1.14,"y":0.52},{"p":4,"s":6,"x":1.2,"y":0.58},{"p":4,"s":6,"x":1.24,"y":0.64},{"p":4,"s":6,"x":1.3,"y":0.56},{"p":4,"s":6,"x":1.3,"y":0.46},{"p":4,"s":6,"x":1.24,"y":0.38},{"p":4,"s":6,"x":1.22,"y":0.3},{"p":4,"s":6,"x":1.28,"y":0.24},{"p":4,"s":6,"x":1.3,"y":0.16},{"p":4,"s":6,"x":1.24,"y":0.26},{"p":4,"s":6,"x":1.18,"y":0.36},{"p":4,"s":6,"x":1.12,"y":0.34},{"p":4,"s":6,"x":1.06,"y":0.28},{"p":4,"s":6,"x":1,"y":0.32},{"p":4,"s":6,"x":0.94,"y":0.38},{"p":4,"s":6,"x":0.88,"y":0.44},{"p":4,"s":6,"x":0.84,"y":0.5},{"p":4,"s":6,"x":0.78,"y":0.56},{"p":4,"s":6,"x":0.74,"y":0.62},{"p":4,"s":6,"x":0.68,"y":0.6},{"p":4,"s":6,"x":0.62,"y":0.56},{"p":4,"s":6,"x":0.56,"y":0.5},{"p":4,"s":6,"x":0.54,"y":0.42},{"p":4,"s":6,"x":0.6,"y":0.38},{"p":4,"s":6,"x":0.66,"y":0.36}
],
"vl": [{"x":-1},{"x":1}],
"corner": [{"t":"A","x":-1.235,"y":0.92},{"t":"B","x":1.24,"y":0.92}],
"lab": [
{"p":1,"kind":"big","t":"A","x":0,"y":1.305},
{"p":1,"kind":"big","t":"A","x":-1.669,"y":0.12},
{"p":1,"kind":"s","t":"s","x":1.695,"y":1.615},
{"p":1,"kind":"sub","t":"+","x":1.873,"y":1.545},
{"p":2,"kind":"big","t":"B","x":0,"y":1.305},
{"p":3,"kind":"big","t":"B","x":-1.669,"y":-0.045},
{"p":3,"kind":"s","t":"s","x":-2.05,"y":1.422},
{"p":3,"kind":"sub","t":"−","x":-1.88,"y":1.331}
],
"arr": [
{"p":1,"x":1.513,"y":0.045,"x2":2.0,"y2":0.045},
{"p":2,"x":0,"y":-1.136,"x2":0,"y2":-1.534},
{"p":4,"x":-1.5,"y":-0.058,"x2":-2.027,"y2":-0.058},
{"p":3,"x":-0.005,"y":1.136,"x2":-0.005,"y2":1.534}
],
"head": [
{"p":1,"x":2.0,"y":0.045,"d":"r"},
{"p":2,"x":0,"y":-1.534,"d":"d"},
{"p":4,"x":-2.027,"y":-0.058,"d":"l"},
{"p":3,"x":-0.005,"y":1.534,"d":"u"}
],
"cbP": [{"k":0,"lo":0,"hi":0.25},{"k":1,"lo":0.25,"hi":0.5},{"k":2,"lo":0.5,"hi":0.75},{"k":3,"lo":0.75,"hi":1},{"k":4,"lo":1,"hi":1.25},{"k":5,"lo":1.25,"hi":1.5},{"k":6,"lo":1.5,"hi":1.75},{"k":7,"lo":1.75,"hi":2},{"k":8,"lo":2,"hi":2.25},{"k":9,"lo":2.25,"hi":2.5}],
"cbPt": [{"v":0},{"v":1},{"v":2}],
"cbE": [{"lev":0,"lo":0.04,"hi":0.2},{"lev":1,"lo":0.87,"hi":1.13},{"lev":2,"lo":1.87,"hi":2.13},{"lev":3,"lo":2.87,"hi":3.13},{"lev":4,"lo":3.87,"hi":4.13},{"lev":5,"lo":4.87,"hi":5.13},{"lev":6,"lo":5.87,"hi":6.13},{"lev":7,"lo":6.86,"hi":7}],
"cbEt": [{"v":0},{"v":3},{"v":6}],
"tb": [{"t":0,"t2":1},{"t":1,"t2":2},{"t":2,"t2":3},{"t":3,"t2":4},{"t":4,"t2":5},{"t":5,"t2":6},{"t":6,"t2":7}]
},
"columns": 3,
"spacing": {"row": 35, "column": 45},
"bounds": "flush",
"align": "each",
"resolve": {"scale": {"fill": "independent", "stroke": "independent", "color": "independent", "shape": "independent"}},
"concat": [
   {"width": 231, "height": 173, "view": {"fill": "#edf5fc", "stroke": null},
    "layer": [
     {"data": {"name": "wellDens"}, "mark": {"type": "area", "clip": true, "interpolate": "monotone", "opacity": 1},
      "encoding": {"x": {"field": "x", "type": "quantitative", "scale": {"domain": [-1.5, 1.5], "nice": false, "zero": false}, "axis": null},
       "y": {"field": "h", "type": "quantitative", "scale": {"domain": [-1.125, 1.125], "nice": false, "zero": false}, "axis": null},
       "y2": {"field": "l"},
       "fill": {"field": "k", "type": "ordinal", "scale": {"domain": [1,2,3,4,5,6,7,8,9], "range": ["#d9e8f5","#c6dbef","#a6cde4","#7fb9da","#5ba3d0","#3b8bc3","#2171b5","#0d57a1","#083d7f"]}, "legend": null}}},
     {"data": {"name": "ell"}, "mark": {"type": "line", "clip": true, "interpolate": "cardinal-closed", "strokeWidth": 2.3},
      "encoding": {"x": {"field": "x", "type": "quantitative", "scale": {"domain": [-1.5, 1.5], "nice": false, "zero": false}, "axis": null},
       "y": {"field": "y", "type": "quantitative", "scale": {"domain": [-1.125, 1.125], "nice": false, "zero": false}, "axis": null},
       "detail": {"field": "id"}, "order": {"value": null},
       "stroke": {"field": "lev", "type": "ordinal", "scale": {"domain": [1,2,3,4,5,6,7], "range": ["#e4e0ef","#d2d0e7","#bbb9dc","#a09bca","#857cbc","#6852a6","#4f2b90"]}, "legend": null}}},
     {"data": {"name": "arms"}, "mark": {"type": "line", "clip": true, "interpolate": "monotone", "strokeWidth": 2.3},
      "encoding": {"x": {"field": "x", "type": "quantitative", "scale": {"domain": [-1.5, 1.5], "nice": false, "zero": false}, "axis": null},
       "y": {"field": "y", "type": "quantitative", "scale": {"domain": [-1.125, 1.125], "nice": false, "zero": false}, "axis": null},
       "detail": {"field": "id"},
       "stroke": {"field": "lev", "type": "ordinal", "scale": {"domain": [1,2,3,4,5,6,7], "range": ["#e4e0ef","#d2d0e7","#bbb9dc","#a09bca","#857cbc","#6852a6","#4f2b90"]}, "legend": null}}},
     {"data": {"name": "vl"}, "mark": {"type": "rule", "color": "#8c8c8c", "strokeWidth": 1.6},
      "encoding": {"x": {"field": "x", "type": "quantitative", "scale": {"domain": [-1.5, 1.5], "nice": false, "zero": false}, "axis": null}}},
     {"data": {"name": "traj"}, "transform": [{"filter": "datum.p == 1"}], "mark": {"type": "line", "clip": true, "strokeWidth": 2, "strokeJoin": "round"},
      "encoding": {"x": {"field": "x", "type": "quantitative", "scale": {"domain": [-1.5, 1.5], "nice": false, "zero": false}, "axis": null},
       "y": {"field": "y", "type": "quantitative", "scale": {"domain": [-1.125, 1.125], "nice": false, "zero": false}, "axis": null},
       "order": {"value": null},
       "color": {"field": "s", "type": "ordinal", "scale": {"domain": [0,1,2,3,4,5,6], "range": ["#ff0000","#ff2d00","#ff5200","#ff7000","#ff8c00","#ffa600","#ffc000"]}, "legend": null}}},
     {"data": {"name": "corner"}, "mark": {"type": "text", "font": "Liberation Serif", "fontStyle": "italic", "fontSize": 30, "color": "#555555", "align": "center", "baseline": "middle"},
      "encoding": {"x": {"field": "x", "type": "quantitative", "scale": {"domain": [-1.5, 1.5], "nice": false, "zero": false}, "axis": null},
       "y": {"field": "y", "type": "quantitative", "scale": {"domain": [-1.125, 1.125], "nice": false, "zero": false}, "axis": null}, "text": {"field": "t"}}},
     {"data": {"name": "lab"}, "transform": [{"filter": "datum.p == 1 && datum.kind == 'big'"}], "mark": {"type": "text", "font": "Liberation Serif", "fontStyle": "italic", "fontSize": 28, "color": "black", "align": "center", "baseline": "middle"},
      "encoding": {"x": {"field": "x", "type": "quantitative", "scale": {"domain": [-1.5, 1.5], "nice": false, "zero": false}, "axis": null},
       "y": {"field": "y", "type": "quantitative", "scale": {"domain": [-1.125, 1.125], "nice": false, "zero": false}, "axis": null}, "text": {"field": "t"}}},
     {"data": {"name": "lab"}, "transform": [{"filter": "datum.p == 1 && datum.kind == 's'"}], "mark": {"type": "text", "font": "Liberation Serif", "fontStyle": "italic", "fontSize": 26, "color": "black", "align": "center", "baseline": "middle"},
      "encoding": {"x": {"field": "x", "type": "quantitative", "scale": {"domain": [-1.5, 1.5], "nice": false, "zero": false}, "axis": null},
       "y": {"field": "y", "type": "quantitative", "scale": {"domain": [-1.125, 1.125], "nice": false, "zero": false}, "axis": null}, "text": {"field": "t"}}},
     {"data": {"name": "lab"}, "transform": [{"filter": "datum.p == 1 && datum.kind == 'sub'"}], "mark": {"type": "text", "font": "Liberation Serif", "fontSize": 20, "color": "black", "align": "center", "baseline": "middle"},
      "encoding": {"x": {"field": "x", "type": "quantitative", "scale": {"domain": [-1.5, 1.5], "nice": false, "zero": false}, "axis": null},
       "y": {"field": "y", "type": "quantitative", "scale": {"domain": [-1.125, 1.125], "nice": false, "zero": false}, "axis": null}, "text": {"field": "t"}}},
     {"data": {"name": "arr"}, "transform": [{"filter": "datum.p == 1"}], "mark": {"type": "rule", "color": "black", "strokeWidth": 1.6},
      "encoding": {"x": {"field": "x", "type": "quantitative", "scale": {"domain": [-1.5, 1.5], "nice": false, "zero": false}, "axis": null},
       "y": {"field": "y", "type": "quantitative", "scale": {"domain": [-1.125, 1.125], "nice": false, "zero": false}, "axis": null},
       "x2": {"field": "x2"}, "y2": {"field": "y2"}}},
     {"data": {"name": "head"}, "transform": [{"filter": "datum.p == 1"}], "mark": {"type": "point", "filled": true, "color": "black", "size": 55, "opacity": 1},
      "encoding": {"x": {"field": "x", "type": "quantitative", "scale": {"domain": [-1.5, 1.5], "nice": false, "zero": false}, "axis": null},
       "y": {"field": "y", "type": "quantitative", "scale": {"domain": [-1.125, 1.125], "nice": false, "zero": false}, "axis": null},
       "shape": {"field": "d", "type": "nominal", "scale": {"domain": ["r","d","l","u"], "range": ["triangle-right","triangle-down","triangle-left","triangle-up"]}, "legend": null}}}
    ]},
   {"width": 231, "height": 173, "view": {"fill": "#edf5fc", "stroke": null},
    "layer": [
     {"data": {"name": "transDens"}, "mark": {"type": "area", "clip": true, "interpolate": "monotone", "opacity": 1},
      "encoding": {"x": {"field": "x", "type": "quantitative", "scale": {"domain": [-1.5, 1.5], "nice": false, "zero": false}, "axis": null},
       "y": {"field": "h", "type": "quantitative", "scale": {"domain": [-1.125, 1.125], "nice": false, "zero": false}, "axis": null},
       "y2": {"field": "l"}, "detail": {"field": "id"},
       "fill": {"field": "k", "type": "ordinal", "scale": {"domain": [1,2,3,4,5,6,7,8,9], "range": ["#d9e8f5","#c6dbef","#a6cde4","#7fb9da","#5ba3d0","#3b8bc3","#2171b5","#0d57a1","#083d7f"]}, "legend": null}}},
     {"data": {"name": "ell"}, "mark": {"type": "line", "clip": true, "interpolate": "cardinal-closed", "strokeWidth": 2.3},
      "encoding": {"x": {"field": "x", "type": "quantitative", "scale": {"domain": [-1.5, 1.5], "nice": false, "zero": false}, "axis": null},
       "y": {"field": "y", "type": "quantitative", "scale": {"domain": [-1.125, 1.125], "nice": false, "zero": false}, "axis": null},
       "detail": {"field": "id"}, "order": {"value": null},
       "stroke": {"field": "lev", "type": "ordinal", "scale": {"domain": [1,2,3,4,5,6,7], "range": ["#e4e0ef","#d2d0e7","#bbb9dc","#a09bca","#857cbc","#6852a6","#4f2b90"]}, "legend": null}}},
     {"data": {"name": "arms"}, "mark": {"type": "line", "clip": true, "interpolate": "monotone", "strokeWidth": 2.3},
      "encoding": {"x": {"field": "x", "type": "quantitative", "scale": {"domain": [-1.5, 1.5], "nice": false, "zero": false}, "axis": null},
       "y": {"field": "y", "type": "quantitative", "scale": {"domain": [-1.125, 1.125], "nice": false, "zero": false}, "axis": null},
       "detail": {"field": "id"},
       "stroke": {"field": "lev", "type": "ordinal", "scale": {"domain": [1,2,3,4,5,6,7], "range": ["#e4e0ef","#d2d0e7","#bbb9dc","#a09bca","#857cbc","#6852a6","#4f2b90"]}, "legend": null}}},
     {"data": {"name": "vl"}, "mark": {"type": "rule", "color": "#8c8c8c", "strokeWidth": 1.6},
      "encoding": {"x": {"field": "x", "type": "quantitative", "scale": {"domain": [-1.5, 1.5], "nice": false, "zero": false}, "axis": null}}},
     {"data": {"name": "traj"}, "transform": [{"filter": "datum.p == 2"}], "mark": {"type": "line", "clip": true, "strokeWidth": 2, "strokeJoin": "round"},
      "encoding": {"x": {"field": "x", "type": "quantitative", "scale": {"domain": [-1.5, 1.5], "nice": false, "zero": false}, "axis": null},
       "y": {"field": "y", "type": "quantitative", "scale": {"domain": [-1.125, 1.125], "nice": false, "zero": false}, "axis": null},
       "order": {"value": null},
       "color": {"field": "s", "type": "ordinal", "scale": {"domain": [0,1,2,3,4,5,6], "range": ["#ff0000","#ff2d00","#ff5200","#ff7000","#ff8c00","#ffa600","#ffc000"]}, "legend": null}}},
     {"data": {"name": "corner"}, "mark": {"type": "text", "font": "Liberation Serif", "fontStyle": "italic", "fontSize": 30, "color": "#555555", "align": "center", "baseline": "middle"},
      "encoding": {"x": {"field": "x", "type": "quantitative", "scale": {"domain": [-1.5, 1.5], "nice": false, "zero": false}, "axis": null},
       "y": {"field": "y", "type": "quantitative", "scale": {"domain": [-1.125, 1.125], "nice": false, "zero": false}, "axis": null}, "text": {"field": "t"}}},
     {"data": {"name": "lab"}, "transform": [{"filter": "datum.p == 2 && datum.kind == 'big'"}], "mark": {"type": "text", "font": "Liberation Serif", "fontStyle": "italic", "fontSize": 28, "color": "black", "align": "center", "baseline": "middle"},
      "encoding": {"x": {"field": "x", "type": "quantitative", "scale": {"domain": [-1.5, 1.5], "nice": false, "zero": false}, "axis": null},
       "y": {"field": "y", "type": "quantitative", "scale": {"domain": [-1.125, 1.125], "nice": false, "zero": false}, "axis": null}, "text": {"field": "t"}}},
     {"data": {"name": "arr"}, "transform": [{"filter": "datum.p == 2"}], "mark": {"type": "rule", "color": "black", "strokeWidth": 1.6},
      "encoding": {"x": {"field": "x", "type": "quantitative", "scale": {"domain": [-1.5, 1.5], "nice": false, "zero": false}, "axis": null},
       "y": {"field": "y", "type": "quantitative", "scale": {"domain": [-1.125, 1.125], "nice": false, "zero": false}, "axis": null},
       "x2": {"field": "x2"}, "y2": {"field": "y2"}}},
     {"data": {"name": "head"}, "transform": [{"filter": "datum.p == 2"}], "mark": {"type": "point", "filled": true, "color": "black", "size": 55, "opacity": 1},
      "encoding": {"x": {"field": "x", "type": "quantitative", "scale": {"domain": [-1.5, 1.5], "nice": false, "zero": false}, "axis": null},
       "y": {"field": "y", "type": "quantitative", "scale": {"domain": [-1.125, 1.125], "nice": false, "zero": false}, "axis": null},
       "shape": {"field": "d", "type": "nominal", "scale": {"domain": ["r","d","l","u"], "range": ["triangle-right","triangle-down","triangle-left","triangle-up"]}, "legend": null}}}
    ]},
  {"width": 16, "height": 173,
   "layer": [
    {"data": {"name": "cbP"}, "mark": {"type": "rect"},
     "encoding": {"x": {"datum": -1.5, "type": "quantitative", "scale": {"domain": [0, 1], "nice": false, "zero": false}, "axis": null}, "x2": {"datum": -0.5},
      "y": {"field": "lo", "type": "quantitative", "scale": {"domain": [0.066, 2.93], "nice": false, "zero": false}, "axis": null}, "y2": {"field": "hi"},
      "fill": {"field": "k", "type": "ordinal", "scale": {"domain": [0,1,2,3,4,5,6,7,8,9], "range": ["#edf5fc","#d9e8f5","#c6dbef","#a6cde4","#7fb9da","#5ba3d0","#3b8bc3","#2171b5","#0d57a1","#083d7f"]}, "legend": null}}},
    {"data": {"values": [{"lo": 0, "hi": 2.5}]}, "mark": {"type": "rect", "fill": "white", "fillOpacity": 0, "stroke": "black", "strokeWidth": 1.5},
     "encoding": {"x": {"datum": -1.5, "type": "quantitative", "scale": {"domain": [0, 1], "nice": false, "zero": false}, "axis": null}, "x2": {"datum": -0.5},
      "y": {"field": "lo", "type": "quantitative", "scale": {"domain": [0.066, 2.93], "nice": false, "zero": false}, "axis": null}, "y2": {"field": "hi"}}},
    {"data": {"name": "cbPt"}, "mark": {"type": "rule", "color": "black", "strokeWidth": 1.5},
     "encoding": {"x": {"datum": -0.5, "type": "quantitative", "scale": {"domain": [0, 1], "nice": false, "zero": false}, "axis": null}, "x2": {"datum": -0.17},
      "y": {"field": "v", "type": "quantitative", "scale": {"domain": [0.066, 2.93], "nice": false, "zero": false}, "axis": null}}},
    {"data": {"name": "cbPt"}, "mark": {"type": "text", "align": "left", "baseline": "middle", "font": "DejaVu Sans", "fontSize": 23, "color": "black"},
     "encoding": {"x": {"datum": -0.15, "type": "quantitative", "scale": {"domain": [0, 1], "nice": false, "zero": false}, "axis": null},
      "y": {"field": "v", "type": "quantitative", "scale": {"domain": [0.066, 2.93], "nice": false, "zero": false}, "axis": null},
      "text": {"field": "v", "type": "quantitative"}}},
    {"data": {"values": [{"t": "p"}]}, "mark": {"type": "text", "align": "left", "baseline": "middle", "font": "DejaVu Sans", "fontSize": 21, "fontStyle": "italic", "color": "black"},
     "encoding": {"x": {"datum": -1.8125, "type": "quantitative", "scale": {"domain": [0, 1], "nice": false, "zero": false}, "axis": null},
      "y": {"datum": 3.13, "type": "quantitative", "scale": {"domain": [0.066, 2.93], "nice": false, "zero": false}, "axis": null}, "text": {"field": "t"}}},
    {"data": {"values": [{"t": "(ϕ|s)"}]}, "mark": {"type": "text", "align": "left", "baseline": "middle", "font": "DejaVu Sans", "fontSize": 21, "fontWeight": "bold", "color": "black"},
     "encoding": {"x": {"datum": -1.0, "type": "quantitative", "scale": {"domain": [0, 1], "nice": false, "zero": false}, "axis": null},
      "y": {"datum": 3.13, "type": "quantitative", "scale": {"domain": [0.066, 2.93], "nice": false, "zero": false}, "axis": null}, "text": {"field": "t"}}},
    {"data": {"values": [{"t": "x10⁻³"}]}, "mark": {"type": "text", "align": "left", "baseline": "middle", "font": "DejaVu Sans", "fontSize": 21, "color": "black"},
     "encoding": {"x": {"datum": -1.8125, "type": "quantitative", "scale": {"domain": [0, 1], "nice": false, "zero": false}, "axis": null},
      "y": {"datum": 2.75, "type": "quantitative", "scale": {"domain": [0.066, 2.93], "nice": false, "zero": false}, "axis": null}, "text": {"field": "t"}}}
   ]},
   {"width": 231, "height": 173, "view": {"fill": "#edf5fc", "stroke": null},
    "layer": [
     {"data": {"name": "transDens"}, "mark": {"type": "area", "clip": true, "interpolate": "monotone", "opacity": 1},
      "encoding": {"x": {"field": "x", "type": "quantitative", "scale": {"domain": [-1.5, 1.5], "nice": false, "zero": false}, "axis": null},
       "y": {"field": "h", "type": "quantitative", "scale": {"domain": [-1.125, 1.125], "nice": false, "zero": false}, "axis": null},
       "y2": {"field": "l"}, "detail": {"field": "id"},
       "fill": {"field": "k", "type": "ordinal", "scale": {"domain": [1,2,3,4,5,6,7,8,9], "range": ["#d9e8f5","#c6dbef","#a6cde4","#7fb9da","#5ba3d0","#3b8bc3","#2171b5","#0d57a1","#083d7f"]}, "legend": null}}},
     {"data": {"name": "ell"}, "mark": {"type": "line", "clip": true, "interpolate": "cardinal-closed", "strokeWidth": 2.3},
      "encoding": {"x": {"field": "x", "type": "quantitative", "scale": {"domain": [-1.5, 1.5], "nice": false, "zero": false}, "axis": null},
       "y": {"field": "y", "type": "quantitative", "scale": {"domain": [-1.125, 1.125], "nice": false, "zero": false}, "axis": null},
       "detail": {"field": "id"}, "order": {"value": null},
       "stroke": {"field": "lev", "type": "ordinal", "scale": {"domain": [1,2,3,4,5,6,7], "range": ["#e4e0ef","#d2d0e7","#bbb9dc","#a09bca","#857cbc","#6852a6","#4f2b90"]}, "legend": null}}},
     {"data": {"name": "arms"}, "mark": {"type": "line", "clip": true, "interpolate": "monotone", "strokeWidth": 2.3},
      "encoding": {"x": {"field": "x", "type": "quantitative", "scale": {"domain": [-1.5, 1.5], "nice": false, "zero": false}, "axis": null},
       "y": {"field": "y", "type": "quantitative", "scale": {"domain": [-1.125, 1.125], "nice": false, "zero": false}, "axis": null},
       "detail": {"field": "id"},
       "stroke": {"field": "lev", "type": "ordinal", "scale": {"domain": [1,2,3,4,5,6,7], "range": ["#e4e0ef","#d2d0e7","#bbb9dc","#a09bca","#857cbc","#6852a6","#4f2b90"]}, "legend": null}}},
     {"data": {"name": "vl"}, "mark": {"type": "rule", "color": "#8c8c8c", "strokeWidth": 1.6},
      "encoding": {"x": {"field": "x", "type": "quantitative", "scale": {"domain": [-1.5, 1.5], "nice": false, "zero": false}, "axis": null}}},
     {"data": {"name": "traj"}, "transform": [{"filter": "datum.p == 3"}], "mark": {"type": "line", "clip": true, "strokeWidth": 2, "strokeJoin": "round"},
      "encoding": {"x": {"field": "x", "type": "quantitative", "scale": {"domain": [-1.5, 1.5], "nice": false, "zero": false}, "axis": null},
       "y": {"field": "y", "type": "quantitative", "scale": {"domain": [-1.125, 1.125], "nice": false, "zero": false}, "axis": null},
       "order": {"value": null},
       "color": {"field": "s", "type": "ordinal", "scale": {"domain": [0,1,2,3,4,5,6], "range": ["#ff0000","#ff2d00","#ff5200","#ff7000","#ff8c00","#ffa600","#ffc000"]}, "legend": null}}},
     {"data": {"name": "corner"}, "mark": {"type": "text", "font": "Liberation Serif", "fontStyle": "italic", "fontSize": 30, "color": "#555555", "align": "center", "baseline": "middle"},
      "encoding": {"x": {"field": "x", "type": "quantitative", "scale": {"domain": [-1.5, 1.5], "nice": false, "zero": false}, "axis": null},
       "y": {"field": "y", "type": "quantitative", "scale": {"domain": [-1.125, 1.125], "nice": false, "zero": false}, "axis": null}, "text": {"field": "t"}}},
     {"data": {"name": "lab"}, "transform": [{"filter": "datum.p == 3 && datum.kind == 'big'"}], "mark": {"type": "text", "font": "Liberation Serif", "fontStyle": "italic", "fontSize": 28, "color": "black", "align": "center", "baseline": "middle"},
      "encoding": {"x": {"field": "x", "type": "quantitative", "scale": {"domain": [-1.5, 1.5], "nice": false, "zero": false}, "axis": null},
       "y": {"field": "y", "type": "quantitative", "scale": {"domain": [-1.125, 1.125], "nice": false, "zero": false}, "axis": null}, "text": {"field": "t"}}},
     {"data": {"name": "lab"}, "transform": [{"filter": "datum.p == 3 && datum.kind == 's'"}], "mark": {"type": "text", "font": "Liberation Serif", "fontStyle": "italic", "fontSize": 26, "color": "black", "align": "center", "baseline": "middle"},
      "encoding": {"x": {"field": "x", "type": "quantitative", "scale": {"domain": [-1.5, 1.5], "nice": false, "zero": false}, "axis": null},
       "y": {"field": "y", "type": "quantitative", "scale": {"domain": [-1.125, 1.125], "nice": false, "zero": false}, "axis": null}, "text": {"field": "t"}}},
     {"data": {"name": "lab"}, "transform": [{"filter": "datum.p == 3 && datum.kind == 'sub'"}], "mark": {"type": "text", "font": "Liberation Serif", "fontSize": 20, "color": "black", "align": "center", "baseline": "middle"},
      "encoding": {"x": {"field": "x", "type": "quantitative", "scale": {"domain": [-1.5, 1.5], "nice": false, "zero": false}, "axis": null},
       "y": {"field": "y", "type": "quantitative", "scale": {"domain": [-1.125, 1.125], "nice": false, "zero": false}, "axis": null}, "text": {"field": "t"}}},
     {"data": {"name": "arr"}, "transform": [{"filter": "datum.p == 3"}], "mark": {"type": "rule", "color": "black", "strokeWidth": 1.6},
      "encoding": {"x": {"field": "x", "type": "quantitative", "scale": {"domain": [-1.5, 1.5], "nice": false, "zero": false}, "axis": null},
       "y": {"field": "y", "type": "quantitative", "scale": {"domain": [-1.125, 1.125], "nice": false, "zero": false}, "axis": null},
       "x2": {"field": "x2"}, "y2": {"field": "y2"}}},
     {"data": {"name": "head"}, "transform": [{"filter": "datum.p == 3"}], "mark": {"type": "point", "filled": true, "color": "black", "size": 55, "opacity": 1},
      "encoding": {"x": {"field": "x", "type": "quantitative", "scale": {"domain": [-1.5, 1.5], "nice": false, "zero": false}, "axis": null},
       "y": {"field": "y", "type": "quantitative", "scale": {"domain": [-1.125, 1.125], "nice": false, "zero": false}, "axis": null},
       "shape": {"field": "d", "type": "nominal", "scale": {"domain": ["r","d","l","u"], "range": ["triangle-right","triangle-down","triangle-left","triangle-up"]}, "legend": null}}}
    ]},
   {"width": 231, "height": 173, "view": {"fill": "#edf5fc", "stroke": null},
    "layer": [
     {"data": {"name": "wellDens"}, "mark": {"type": "area", "clip": true, "interpolate": "monotone", "opacity": 1},
      "encoding": {"x": {"field": "xb", "type": "quantitative", "scale": {"domain": [-1.5, 1.5], "nice": false, "zero": false}, "axis": null},
       "y": {"field": "h", "type": "quantitative", "scale": {"domain": [-1.125, 1.125], "nice": false, "zero": false}, "axis": null},
       "y2": {"field": "l"},
       "fill": {"field": "k", "type": "ordinal", "scale": {"domain": [1,2,3,4,5,6,7,8,9], "range": ["#d9e8f5","#c6dbef","#a6cde4","#7fb9da","#5ba3d0","#3b8bc3","#2171b5","#0d57a1","#083d7f"]}, "legend": null}}},
     {"data": {"name": "ell"}, "mark": {"type": "line", "clip": true, "interpolate": "cardinal-closed", "strokeWidth": 2.3},
      "encoding": {"x": {"field": "x", "type": "quantitative", "scale": {"domain": [-1.5, 1.5], "nice": false, "zero": false}, "axis": null},
       "y": {"field": "y", "type": "quantitative", "scale": {"domain": [-1.125, 1.125], "nice": false, "zero": false}, "axis": null},
       "detail": {"field": "id"}, "order": {"value": null},
       "stroke": {"field": "lev", "type": "ordinal", "scale": {"domain": [1,2,3,4,5,6,7], "range": ["#e4e0ef","#d2d0e7","#bbb9dc","#a09bca","#857cbc","#6852a6","#4f2b90"]}, "legend": null}}},
     {"data": {"name": "arms"}, "mark": {"type": "line", "clip": true, "interpolate": "monotone", "strokeWidth": 2.3},
      "encoding": {"x": {"field": "x", "type": "quantitative", "scale": {"domain": [-1.5, 1.5], "nice": false, "zero": false}, "axis": null},
       "y": {"field": "y", "type": "quantitative", "scale": {"domain": [-1.125, 1.125], "nice": false, "zero": false}, "axis": null},
       "detail": {"field": "id"},
       "stroke": {"field": "lev", "type": "ordinal", "scale": {"domain": [1,2,3,4,5,6,7], "range": ["#e4e0ef","#d2d0e7","#bbb9dc","#a09bca","#857cbc","#6852a6","#4f2b90"]}, "legend": null}}},
     {"data": {"name": "vl"}, "mark": {"type": "rule", "color": "#8c8c8c", "strokeWidth": 1.6},
      "encoding": {"x": {"field": "x", "type": "quantitative", "scale": {"domain": [-1.5, 1.5], "nice": false, "zero": false}, "axis": null}}},
     {"data": {"name": "traj"}, "transform": [{"filter": "datum.p == 4"}], "mark": {"type": "line", "clip": true, "strokeWidth": 2, "strokeJoin": "round"},
      "encoding": {"x": {"field": "x", "type": "quantitative", "scale": {"domain": [-1.5, 1.5], "nice": false, "zero": false}, "axis": null},
       "y": {"field": "y", "type": "quantitative", "scale": {"domain": [-1.125, 1.125], "nice": false, "zero": false}, "axis": null},
       "order": {"value": null},
       "color": {"field": "s", "type": "ordinal", "scale": {"domain": [0,1,2,3,4,5,6], "range": ["#ff0000","#ff2d00","#ff5200","#ff7000","#ff8c00","#ffa600","#ffc000"]}, "legend": null}}},
     {"data": {"name": "corner"}, "mark": {"type": "text", "font": "Liberation Serif", "fontStyle": "italic", "fontSize": 30, "color": "#555555", "align": "center", "baseline": "middle"},
      "encoding": {"x": {"field": "x", "type": "quantitative", "scale": {"domain": [-1.5, 1.5], "nice": false, "zero": false}, "axis": null},
       "y": {"field": "y", "type": "quantitative", "scale": {"domain": [-1.125, 1.125], "nice": false, "zero": false}, "axis": null}, "text": {"field": "t"}}},
     {"data": {"name": "arr"}, "transform": [{"filter": "datum.p == 4"}], "mark": {"type": "rule", "color": "black", "strokeWidth": 1.6},
      "encoding": {"x": {"field": "x", "type": "quantitative", "scale": {"domain": [-1.5, 1.5], "nice": false, "zero": false}, "axis": null},
       "y": {"field": "y", "type": "quantitative", "scale": {"domain": [-1.125, 1.125], "nice": false, "zero": false}, "axis": null},
       "x2": {"field": "x2"}, "y2": {"field": "y2"}}},
     {"data": {"name": "head"}, "transform": [{"filter": "datum.p == 4"}], "mark": {"type": "point", "filled": true, "color": "black", "size": 55, "opacity": 1},
      "encoding": {"x": {"field": "x", "type": "quantitative", "scale": {"domain": [-1.5, 1.5], "nice": false, "zero": false}, "axis": null},
       "y": {"field": "y", "type": "quantitative", "scale": {"domain": [-1.125, 1.125], "nice": false, "zero": false}, "axis": null},
       "shape": {"field": "d", "type": "nominal", "scale": {"domain": ["r","d","l","u"], "range": ["triangle-right","triangle-down","triangle-left","triangle-up"]}, "legend": null}}}
    ]},
  {"width": 16, "height": 173,
   "layer": [
    {"data": {"values": [{"lo": 0, "hi": 7}]}, "mark": {"type": "rect", "fill": "white"},
     "encoding": {"x": {"datum": -1.5, "type": "quantitative", "scale": {"domain": [0, 1], "nice": false, "zero": false}, "axis": null}, "x2": {"datum": -0.5},
      "y": {"field": "lo", "type": "quantitative", "scale": {"domain": [-0.046, 7.921], "nice": false, "zero": false}, "axis": null}, "y2": {"field": "hi"}}},
    {"data": {"name": "cbE"}, "mark": {"type": "rect"},
     "encoding": {"x": {"datum": -1.5, "type": "quantitative", "scale": {"domain": [0, 1], "nice": false, "zero": false}, "axis": null}, "x2": {"datum": -0.5},
      "y": {"field": "lo", "type": "quantitative", "scale": {"domain": [-0.046, 7.921], "nice": false, "zero": false}, "axis": null}, "y2": {"field": "hi"},
      "fill": {"field": "lev", "type": "ordinal", "scale": {"domain": [0,1,2,3,4,5,6,7], "range": ["#f1eff6","#dcdbec","#c4c2df","#a4a0cc","#8682bd","#6d59a7","#5a3596","#3f007d"]}, "legend": null}}},
    {"data": {"values": [{"lo": 0, "hi": 7}]}, "mark": {"type": "rect", "fill": "white", "fillOpacity": 0, "stroke": "black", "strokeWidth": 1.5},
     "encoding": {"x": {"datum": -1.5, "type": "quantitative", "scale": {"domain": [0, 1], "nice": false, "zero": false}, "axis": null}, "x2": {"datum": -0.5},
      "y": {"field": "lo", "type": "quantitative", "scale": {"domain": [-0.046, 7.921], "nice": false, "zero": false}, "axis": null}, "y2": {"field": "hi"}}},
    {"data": {"name": "cbEt"}, "mark": {"type": "rule", "color": "black", "strokeWidth": 1.5},
     "encoding": {"x": {"datum": -0.5, "type": "quantitative", "scale": {"domain": [0, 1], "nice": false, "zero": false}, "axis": null}, "x2": {"datum": -0.17},
      "y": {"field": "v", "type": "quantitative", "scale": {"domain": [-0.046, 7.921], "nice": false, "zero": false}, "axis": null}}},
    {"data": {"name": "cbEt"}, "mark": {"type": "text", "align": "left", "baseline": "middle", "font": "DejaVu Sans", "fontSize": 23, "color": "black"},
     "encoding": {"x": {"datum": -0.15, "type": "quantitative", "scale": {"domain": [0, 1], "nice": false, "zero": false}, "axis": null},
      "y": {"field": "v", "type": "quantitative", "scale": {"domain": [-0.046, 7.921], "nice": false, "zero": false}, "axis": null},
      "text": {"field": "v", "type": "quantitative"}}},
    {"data": {"values": [{"t": "βE"}]}, "mark": {"type": "text", "align": "center", "baseline": "middle", "font": "DejaVu Sans", "fontSize": 22, "fontStyle": "italic", "color": "black"},
     "encoding": {"x": {"datum": -0.906, "type": "quantitative", "scale": {"domain": [0, 1], "nice": false, "zero": false}, "axis": null},
      "y": {"datum": 7.53, "type": "quantitative", "scale": {"domain": [-0.046, 7.921], "nice": false, "zero": false}, "axis": null}, "text": {"field": "t"}}}
   ]},
{"width": 231, "height": 16,
 "layer": [
  {"data": {"name": "tb"}, "mark": {"type": "rect"},
   "encoding": {"x": {"field": "t", "type": "quantitative", "scale": {"domain": [-6.877, 2.578], "nice": false, "zero": false}, "axis": null}, "x2": {"field": "t2"},
    "y": {"datum": 1.6875, "type": "quantitative", "scale": {"domain": [0, 1], "nice": false, "zero": false}, "axis": null}, "y2": {"datum": 2.6875},
    "fill": {"field": "t", "type": "ordinal", "scale": {"domain": [0,1,2,3,4,5,6], "range": ["#ff0000","#ff2d00","#ff5200","#ff7000","#ff8c00","#ffa600","#ffc000"]}, "legend": null}}},
  {"data": {"values": [{"a": 0, "b": 7}]}, "mark": {"type": "rect", "fill": "white", "fillOpacity": 0, "stroke": "#555555", "strokeWidth": 1},
   "encoding": {"x": {"field": "a", "type": "quantitative", "scale": {"domain": [-6.877, 2.578], "nice": false, "zero": false}, "axis": null}, "x2": {"field": "b"},
    "y": {"datum": 1.6875, "type": "quantitative", "scale": {"domain": [0, 1], "nice": false, "zero": false}, "axis": null}, "y2": {"datum": 2.6875}}},
  {"data": {"values": [{"a": 1.105, "b": 5.71, "y": 1.25}]}, "mark": {"type": "rule", "color": "black", "strokeWidth": 1.5},
   "encoding": {"x": {"field": "a", "type": "quantitative", "scale": {"domain": [-6.877, 2.578], "nice": false, "zero": false}, "axis": null}, "x2": {"field": "b"},
    "y": {"field": "y", "type": "quantitative", "scale": {"domain": [0, 1], "nice": false, "zero": false}, "axis": null}}},
  {"data": {"values": [{"a": 5.71, "y": 1.25}]}, "mark": {"type": "point", "shape": "triangle-right", "filled": true, "color": "black", "size": 40, "opacity": 1},
   "encoding": {"x": {"field": "a", "type": "quantitative", "scale": {"domain": [-6.877, 2.578], "nice": false, "zero": false}, "axis": null},
    "y": {"field": "y", "type": "quantitative", "scale": {"domain": [0, 1], "nice": false, "zero": false}, "axis": null}}},
  {"data": {"values": [{"a": 3.5, "y": 0.375, "t": "time"}]}, "mark": {"type": "text", "align": "center", "baseline": "middle", "font": "DejaVu Sans", "fontSize": 16, "color": "black"},
   "encoding": {"x": {"field": "a", "type": "quantitative", "scale": {"domain": [-6.877, 2.578], "nice": false, "zero": false}, "axis": null},
    "y": {"field": "y", "type": "quantitative", "scale": {"domain": [0, 1], "nice": false, "zero": false}, "axis": null}, "text": {"field": "t"}}}
 ]}
]
}
